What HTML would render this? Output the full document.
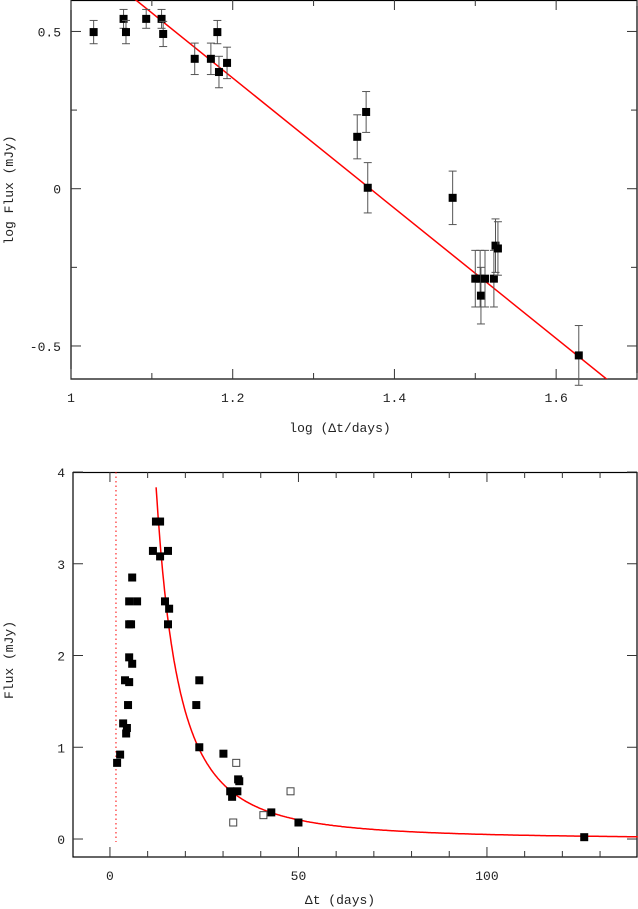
<!DOCTYPE html>
<html><head><meta charset="utf-8"><style>
html,body{margin:0;padding:0;background:#fff;}
svg{display:block;}
text{font-family:"Liberation Mono","DejaVu Sans Mono",monospace;font-size:13px;fill:#222;}
</style></head><body>
<svg id="chart" width="638" height="909" viewBox="0 0 638 909" xmlns="http://www.w3.org/2000/svg"></svg>
<script>
// ---- Top panel data (log-log) ----
const topLogT = [1.028,1.065,1.068,1.093,1.112,1.114,1.153,1.173,1.181,1.183,1.193,1.354,1.365,1.367,1.472,1.500,1.506,1.507,1.512,1.523,1.525,1.528,1.628];
const topLogF = [0.498,0.540,0.498,0.540,0.540,0.492,0.413,0.413,0.498,0.371,0.400,0.165,0.244,0.003,-0.029,-0.286,-0.286,-0.340,-0.286,-0.286,-0.181,-0.190,-0.530];
const topErr  = [0.037,0.030,0.037,0.030,0.030,0.040,0.050,0.050,0.037,0.050,0.050,0.070,0.065,0.080,0.085,0.090,0.090,0.090,0.090,0.090,0.085,0.085,0.095];
const fitSlope = -2.07;
const fitIntercept = 2.836;
const topXTicks = [1,1.2,1.4,1.6];
const topXTickLabels = ["1","1.2","1.4","1.6"];
const topYTicks = [0.5,0,-0.5];
const topYTickLabels = ["0.5","0","-0.5"];
// ---- Bottom panel data (linear) ----
const botT = [1.9,2.7,3.5,4.5,4.3,4.8,4.0,5.1,5.1,5.9,5.1,5.6,5.1,7.2,5.9,11.4,13.3,15.4,12.2,13.3,14.6,15.7,15.4,23.7,22.9,23.7,30.1,34.0,34.3,31.9,33.8,32.4,42.8,50.0,125.8];
const botF = [0.83,0.92,1.26,1.21,1.15,1.46,1.73,1.71,1.98,1.91,2.34,2.34,2.59,2.59,2.85,3.14,3.08,3.14,3.46,3.46,2.59,2.51,2.34,1.73,1.46,1.00,0.93,0.65,0.63,0.52,0.52,0.46,0.29,0.18,0.02];
const openT = [33.5,47.9,40.7,32.7];
const openF = [0.83,0.52,0.26,0.18];
const burstT = 1.6;
const botXTicks = [0,50,100];
const botXTickLabels = ["0","50","100"];
const botYTicks = [0,1,2,3,4];
const botYTickLabels = ["0","1","2","3","4"];

const NS="http://www.w3.org/2000/svg";
const svg=document.getElementById('chart');
function mk(tag,attrs,parent){const e=document.createElementNS(NS,tag);for(const k in attrs)e.setAttribute(k,attrs[k]);(parent||svg).appendChild(e);return e;}

const T={l:71,r:637,t:0,b:379,x0:1,x1:1.7,y0:-0.605,y1:0.6};
const tx=v=>T.l+(v-T.x0)/(T.x1-T.x0)*(T.r-T.l);
const ty=v=>T.b-(v-T.y0)/(T.y1-T.y0)*(T.b-T.t);
const B={l:73,r:637,t:472,b:857,x0:-9.8,x1:139.8,y0:-0.196,y1:4};
const bx=v=>B.l+(v-B.x0)/(B.x1-B.x0)*(B.r-B.l);
const by=v=>B.b-(v-B.y0)/(B.y1-B.y0)*(B.b-B.t);

function frame(P,name){
  const g=mk('rect',{x:P.l,y:P.t+0.5,width:P.r-P.l,height:P.b-P.t-0.5,fill:'none',stroke:'#000','stroke-width':1.2});
  
  
}
frame(T,'top-plot-frame');
frame(B,'bottom-plot-frame');

const gTop=mk('g',{});


for(let v=1;v<=1.7001;v+=0.1){const x=tx(v);const major=Math.abs(v*10%2)<0.01||Math.abs(v*10%2-2)<0.01;const L=major?10:6;
  mk('line',{x1:x,y1:T.b,x2:x,y2:T.b-L,stroke:'#333'},gTop);mk('line',{x1:x,y1:T.t,x2:x,y2:T.t+L,stroke:'#333'},gTop);}
for(let v=-0.5;v<=0.5001;v+=0.25){const y=ty(v);const major=Math.abs(v*2-Math.round(v*2))<0.01;const L=major?10:6;
  mk('line',{x1:T.l,y1:y,x2:T.l+L,y2:y,stroke:'#333'},gTop);mk('line',{x1:T.r,y1:y,x2:T.r-L,y2:y,stroke:'#333'},gTop);}
topXTicks.forEach((v,i)=>{const t=mk('text',{x:tx(v),y:T.b+23,'text-anchor':'middle'});t.textContent=topXTickLabels[i];
  
  });
topYTicks.forEach((v,i)=>{const t=mk('text',{x:T.l-10,y:ty(v)+5,'text-anchor':'end'});t.textContent=topYTickLabels[i];
  
  });
let lab=mk('text',{x:340,y:432,'text-anchor':'middle'});lab.textContent='log (\u0394t/days)';


lab=mk('text',{x:13,y:190,'text-anchor':'middle',transform:'rotate(-90 13 190)'});lab.textContent='log Flux (mJy)';



const cpath=mk('clipPath',{id:'ct'});
mk('rect',{x:T.l,y:T.t,width:T.r-T.l,height:T.b-T.t},cpath);
const fl=mk('line',{x1:tx(T.x0),y1:ty(fitIntercept+fitSlope*T.x0),x2:tx(T.x1),y2:ty(fitIntercept+fitSlope*T.x1),stroke:'#f00','stroke-width':1.5,'clip-path':'url(#ct)'});



topLogT.forEach((v,i)=>{
  const x=tx(v),y=ty(topLogF[i]),e=topErr[i];
  const g=mk('g',{});
  
  
  mk('line',{x1:x,y1:ty(topLogF[i]+e),x2:x,y2:ty(topLogF[i]-e),stroke:'#555'},g);
  mk('line',{x1:x-4,y1:ty(topLogF[i]+e),x2:x+4,y2:ty(topLogF[i]+e),stroke:'#555'},g);
  mk('line',{x1:x-4,y1:ty(topLogF[i]-e),x2:x+4,y2:ty(topLogF[i]-e),stroke:'#555'},g);
  mk('rect',{x:x-4,y:y-4,width:8,height:8,fill:'#000'},g);
});

const gB=mk('g',{});


for(let v=0;v<=130;v+=10){const x=bx(v);const L=(v%50===0)?10:6;
  mk('line',{x1:x,y1:B.b,x2:x,y2:B.b-L,stroke:'#333'},gB);mk('line',{x1:x,y1:B.t,x2:x,y2:B.t+L,stroke:'#333'},gB);}
for(let v=0;v<=4;v+=1){const y=by(v);const L=10;
  mk('line',{x1:B.l,y1:y,x2:B.l+L,y2:y,stroke:'#333'},gB);mk('line',{x1:B.r,y1:y,x2:B.r-L,y2:y,stroke:'#333'},gB);}
botXTicks.forEach((v,i)=>{const t=mk('text',{x:bx(v),y:B.b+23,'text-anchor':'middle'});t.textContent=botXTickLabels[i];
  
  });
botYTicks.forEach((v,i)=>{const t=mk('text',{x:B.l-8,y:by(v)+5,'text-anchor':'end'});t.textContent=botYTickLabels[i];
  
  });
lab=mk('text',{x:340,y:904,'text-anchor':'middle'});lab.textContent='\u0394t (days)';


lab=mk('text',{x:13,y:660,'text-anchor':'middle',transform:'rotate(-90 13 660)'});lab.textContent='Flux (mJy)';



const bl=mk('line',{x1:bx(burstT),y1:B.t,x2:bx(burstT),y2:B.b-15,stroke:'#f00','stroke-width':1,'stroke-dasharray':'1.5,3'});



let d='';
for(let t=11.5;t<=140;t+=0.25){const F=Math.pow(10,fitIntercept+fitSlope*Math.log10(t));if(F>B.y1)continue;d+=(d?'L':'M')+bx(t).toFixed(1)+','+by(F).toFixed(1);}
const cp=mk('path',{d:d,fill:'none',stroke:'#f00','stroke-width':1.5});



botT.forEach((v,i)=>{
  const r=mk('rect',{x:bx(v)-4,y:by(botF[i])-4,width:8,height:8,fill:'#000'});
  
  
});
openT.forEach((v,i)=>{
  const r=mk('rect',{x:bx(v)-3.5,y:by(openF[i])-3.5,width:7,height:7,fill:'#fff',stroke:'#444'});
  
  
});
</script>
</body></html>
